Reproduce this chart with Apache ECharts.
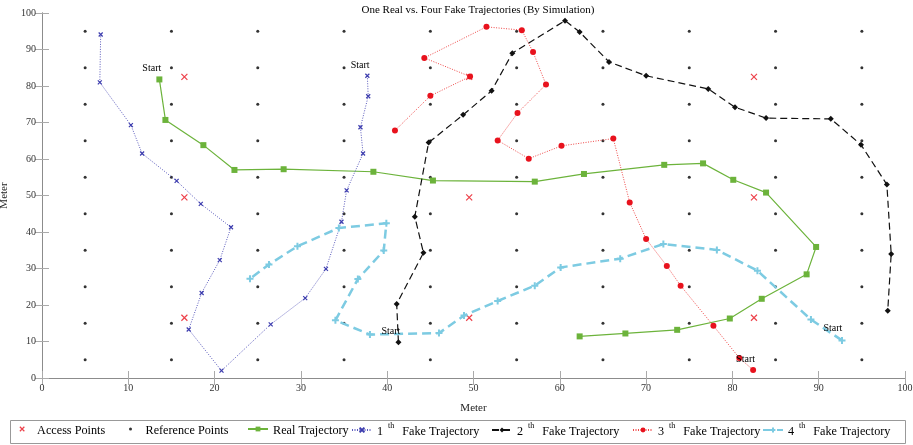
<!DOCTYPE html>
<html>
<head>
<meta charset="utf-8">
<script src="https://cdn.jsdelivr.net/npm/echarts@6/dist/echarts.min.js"></script>
<style>
html,body{margin:0;padding:0;background:#fff;}
#chart{width:913px;height:445px;}
</style>
</head>
<body>
<div id="chart"></div>
<script>
// ---- data ----
const titleText = 'One Real vs. Four Fake Trajectories (By Simulation)';
const axisTicks = [0,10,20,30,40,50,60,70,80,90,100];
const refCoords = [5,15,25,35,45,55,65,75,85,95];
const apCoords = [16.5,49.5,82.5];

const realX = [13.6,14.3,18.7,22.3,28.0,38.4,45.3,57.1,62.8,72.1,76.6,80.1,83.9,89.7,88.6,83.4,79.7,73.6,67.6,62.3];
const realY = [81.8,70.7,63.8,57.0,57.2,56.5,54.1,53.8,55.9,58.4,58.8,54.3,50.8,35.9,28.4,21.7,16.3,13.2,12.2,11.4];

const f1X = [37.7,37.8,36.9,37.2,35.3,34.7,32.9,30.5,26.5,20.8,17.0,18.5,20.6,21.9,18.4,15.6,11.6,10.3,6.7,6.8];
const f1Y = [82.8,77.2,68.7,61.5,51.4,42.8,29.9,21.9,14.7,2.0,13.3,23.3,32.3,41.3,47.7,54.0,61.5,69.3,81.0,94.1];

const f2X = [41.3,41.1,44.2,43.2,44.8,48.8,52.1,54.5,60.6,62.3,65.7,70.0,77.2,80.3,83.9,91.4,94.9,97.9,98.4,98.0];
const f2Y = [9.8,20.3,34.3,44.2,64.5,72.1,78.7,89.0,97.9,94.8,86.6,82.8,79.2,74.2,71.2,71.0,63.9,53.0,34.0,18.4];

const f3X = [82.4,80.8,77.8,74.0,72.4,70.0,68.1,66.2,60.2,56.4,52.8,55.1,58.4,56.9,55.6,51.5,44.3,49.6,45.0,40.9];
const f3Y = [2.2,5.5,14.3,25.3,30.7,38.1,48.1,65.6,63.6,60.1,65.1,72.6,80.4,89.3,95.3,96.2,87.7,82.6,77.3,67.8];

const f4X = [92.7,89.1,82.9,78.2,72.0,67.0,60.1,57.1,52.8,48.9,46.0,38.0,34.0,36.6,39.6,39.9,34.4,29.6,26.3,24.1];
const f4Y = [10.3,16.0,29.4,35.1,36.7,32.7,30.3,25.3,21.1,17.1,12.3,11.9,15.8,27.1,34.9,42.4,41.1,36.1,31.1,27.2];

const seriesNames = ['Access Points','Reference Points','Real Trajectory','1th Fake Trajectory','2th Fake Trajectory','3th Fake Trajectory','4th Fake Trajectory'];
const startLabel = 'Start';

// ---- build ----
const FONT = '"Liberation Serif","Times New Roman",serif';
const X_PATH = 'path://M0,0L10,10M10,0L0,10';
const PLUS_PATH = 'path://M5,0L5,10M0,5L10,5';
// icons for legend (padded so the glyph stays small inside the legend slot)
const X_ICON = 'path://M0,0L0,0M20,8L20,8M7,1L13,7M13,1L7,7';
const DOT_ICON = 'path://M0,0L0,0M20,8L20,8M8,4a2,2 0 1,0 4,0a2,2 0 1,0 -4,0Z';
const legendLefts = [14, 123, 247, 351, 491, 632, 762];
const legendTops = [425, 425, 425, 422, 422, 422, 422];

function pairs(xs, ys) {
  return xs.map((x, i) => {
    const item = { value: [x, ys[i]] };
    if (i === 0) {
      item.label = { show: true, formatter: startLabel, position: [-14, -13],
        fontFamily: FONT, fontSize: 10, color: '#000' };
    }
    return item;
  });
}
const refData = [];
refCoords.forEach(x => refCoords.forEach(y => refData.push([x, y])));
const apData = [];
apCoords.forEach(x => apCoords.forEach(y => apData.push([x, y])));

const chart = echarts.init(document.getElementById('chart'), null, { renderer: 'canvas' });

const axisCommon = {
  type: 'value', min: 0, max: 100, interval: 10,
  axisLine: { show: true, lineStyle: { color: '#8c8c8c', width: 1 } },
  axisTick: { show: true, inside: true, length: 7, lineStyle: { color: '#aaa', width: 1 } },
  splitLine: { show: false }
};

const legendText = {
  fontFamily: FONT, fontSize: 12.2, color: '#000',
  rich: {
    n: { fontFamily: FONT, fontSize: 12.2, color: '#000', lineHeight: 16, verticalAlign: 'bottom' },
    s: { fontFamily: FONT, fontSize: 8, color: '#000', lineHeight: 8, verticalAlign: 'top', padding: [0, 8, 0, 5] }
  }
};
function legendFormatter(name) {
  const m = name.match(/^(\d)th (.*)$/);
  if (m) return '{n|' + m[1] + '}{s|th}{n|' + m[2] + '}';
  return '{n|' + name + '}';
}
const legendItems = [
  { name: seriesNames[0], icon: X_ICON, itemStyle: { color: 'rgba(0,0,0,0)', borderColor: '#e8121d', borderWidth: 1.2 } },
  { name: seriesNames[1], icon: DOT_ICON, itemStyle: { color: '#000', borderWidth: 0 } },
  seriesNames[2], seriesNames[3], seriesNames[4], seriesNames[5], seriesNames[6]
];
const legends = legendItems.map((d, i) => ({
  data: [d], left: legendLefts[i], top: legendTops[i], padding: 0,
  itemWidth: 20, itemHeight: 6, itemGap: 0,
  textStyle: legendText, formatter: legendFormatter
}));

const option = {
  backgroundColor: '#fff',
  animation: false,
  title: {
    text: titleText, left: 473, top: 0, textAlign: 'center',
    textStyle: { fontFamily: FONT, fontSize: 11, fontWeight: 'normal', color: '#000' }
  },
  graphic: [{
    type: 'rect', silent: true,
    shape: { x: 10.5, y: 420.5, width: 895, height: 23 },
    style: { fill: 'none', stroke: '#999', lineWidth: 1 }
  }],
  grid: { left: 42, right: 8, top: 13, bottom: 67, containLabel: false, outerBoundsMode: 'none' },
  xAxis: [
    Object.assign({}, axisCommon, {
      position: 'bottom', name: 'Meter', nameLocation: 'middle', nameGap: 25,
      nameTextStyle: { fontFamily: FONT, fontSize: 11, color: '#222' },
      axisLabel: { fontFamily: FONT, fontSize: 10, color: '#333', margin: 5 }
    }),
    Object.assign({}, axisCommon, { position: 'top', axisLabel: { show: false } })
  ],
  yAxis: [
    Object.assign({}, axisCommon, {
      position: 'left', name: 'Meter', nameLocation: 'middle', nameGap: 30,
      nameTextStyle: { fontFamily: FONT, fontSize: 11, color: '#222' },
      axisLabel: { fontFamily: FONT, fontSize: 10, color: '#333', margin: 6 }
    }),
    Object.assign({}, axisCommon, { position: 'right', axisLabel: { show: false } })
  ],
  legend: legends,
  series: [
    { name: seriesNames[0], type: 'scatter', data: apData, symbol: X_PATH, symbolSize: 6,
      itemStyle: { color: 'rgba(0,0,0,0)', borderColor: '#e8121d', borderWidth: 1.2 }, z: 3 },
    { name: seriesNames[1], type: 'scatter', data: refData, symbol: 'circle', symbolSize: 3,
      itemStyle: { color: '#000' }, z: 2 },
    { name: seriesNames[2], type: 'line', data: pairs(realX, realY), symbol: 'rect', symbolSize: 6,
      lineStyle: { color: '#6cb33b', width: 1.2 }, itemStyle: { color: '#6cb33b' }, z: 4 },
    { name: seriesNames[3], type: 'line', data: pairs(f1X, f1Y), symbol: X_PATH, symbolSize: 4,
      lineStyle: { color: '#5a5abd', width: 1, type: [1, 1.5] },
      itemStyle: { color: 'rgba(0,0,0,0)', borderColor: '#3c3cae', borderWidth: 1.2 }, z: 4 },
    { name: seriesNames[4], type: 'line', data: pairs(f2X, f2Y), symbol: 'diamond', symbolSize: 6,
      lineStyle: { color: '#111', width: 1.2, type: [7, 4] }, itemStyle: { color: '#111' }, z: 4 },
    { name: seriesNames[5], type: 'line', data: pairs(f3X, f3Y), symbol: 'circle', symbolSize: 6,
      lineStyle: { color: '#f04848', width: 1, type: [1, 1.5] }, itemStyle: { color: '#e8121d' }, z: 4 },
    { name: seriesNames[6], type: 'line', data: pairs(f4X, f4Y), symbol: PLUS_PATH, symbolSize: 7,
      lineStyle: { color: '#7dcbe2', width: 2.5, type: [9, 5] },
      itemStyle: { color: 'rgba(0,0,0,0)', borderColor: '#7dcbe2', borderWidth: 2 }, z: 4 }
  ]
};
chart.setOption(option);
</script>
</body>
</html>
